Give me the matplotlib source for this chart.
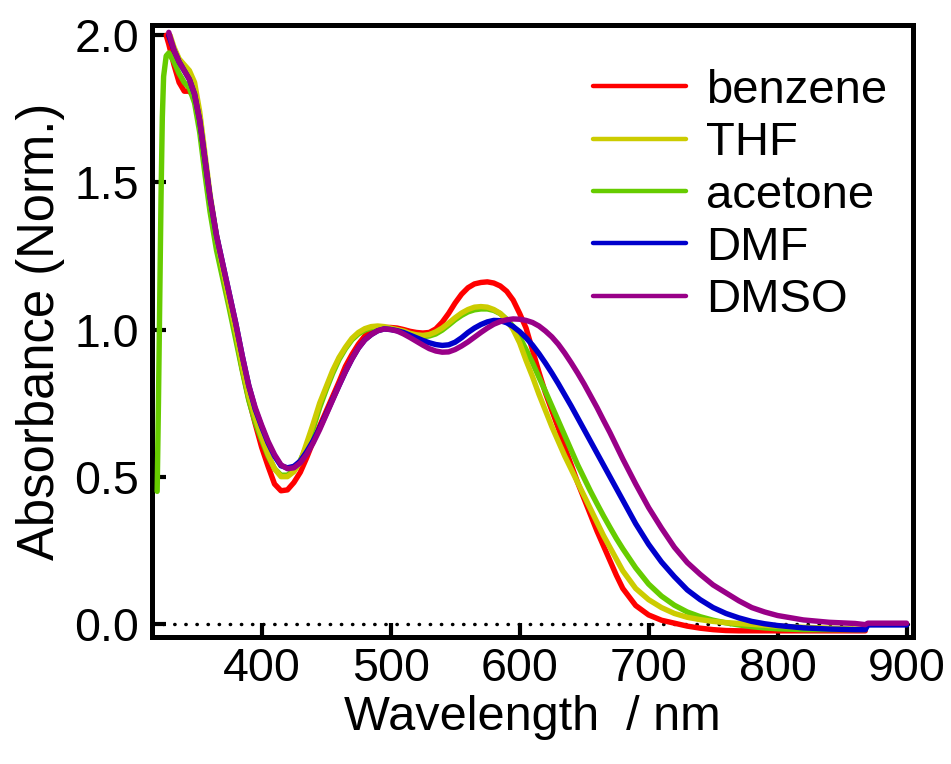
import matplotlib
matplotlib.use("Agg")
import matplotlib.pyplot as plt

plt.rcParams['font.family'] = ['Liberation Sans', 'DejaVu Sans']

# shared wavelength grid (nm)
grid = [332, 336, 340, 344, 348, 352, 356, 360,
        365, 370, 375, 380, 385, 390, 395, 400, 405, 410,
        415, 420, 425, 430, 435, 440, 445, 450, 455, 460,
        465, 470, 475, 480, 485, 490, 495, 500, 505, 510,
        515, 520, 525, 530, 535, 540, 545, 550, 555, 560,
        565, 570, 575, 580, 585, 590, 595, 600, 605, 610,
        615, 620, 625, 630, 635, 640, 645, 650, 655, 660,
        665, 670, 675, 680, 690, 700, 710, 720, 730, 740,
        750, 760, 770, 780, 790, 800, 820, 840, 860, 868]

benzene_head_wl = [326, 328]
benzene_head = [2.00, 1.97]
benzene = [1.90, 1.84, 1.81, 1.81, 1.79, 1.70, 1.56, 1.43,
           1.30, 1.19, 1.09, 0.98, 0.865, 0.765, 0.68, 0.60, 0.535, 0.475,
           0.452, 0.455, 0.48, 0.515, 0.565, 0.62, 0.672, 0.722, 0.772, 0.822,
           0.875, 0.915, 0.95, 0.978, 0.995, 1.003, 1.007, 1.007, 1.005, 1.0,
           0.994, 0.99, 0.988, 0.99, 1.002, 1.025, 1.055, 1.09, 1.12, 1.142,
           1.155, 1.16, 1.162, 1.158, 1.148, 1.13, 1.10, 1.055, 1.005, 0.93,
           0.855, 0.785, 0.725, 0.665, 0.60, 0.54, 0.48, 0.425, 0.37, 0.315,
           0.265, 0.215, 0.165, 0.12, 0.062, 0.03, 0.012, 0.002, -0.008, -0.015,
           -0.02, -0.023, -0.024, -0.024, -0.024, -0.024, -0.024, -0.024, -0.024, -0.024]

thf_head_wl = [329]
thf_head = [2.00]
thf = [1.96, 1.92, 1.90, 1.88, 1.84, 1.74, 1.60, 1.46,
       1.32, 1.20, 1.09, 0.99, 0.875, 0.775, 0.70, 0.635, 0.575, 0.527,
       0.50, 0.50, 0.517, 0.55, 0.615, 0.68, 0.75, 0.805, 0.86, 0.905,
       0.94, 0.97, 0.99, 1.003, 1.01, 1.012, 1.01, 1.005, 1.0, 0.995,
       0.987, 0.982, 0.98, 0.983, 0.992, 1.005, 1.022, 1.04, 1.056, 1.068,
       1.076, 1.078, 1.076, 1.068, 1.055, 1.032, 1.0, 0.955, 0.895, 0.84,
       0.78, 0.725, 0.67, 0.62, 0.57, 0.525, 0.48, 0.435, 0.39, 0.345,
       0.30, 0.26, 0.22, 0.18, 0.12, 0.082, 0.055, 0.035, 0.022, 0.014,
       0.008, 0.004, 0.001, -0.002, -0.005, -0.008, -0.012, -0.015, -0.018, -0.018]

acetone_head_wl = [319, 320, 321, 322, 323, 324, 326, 328]
acetone_head = [0.45, 0.75, 1.10, 1.45, 1.72, 1.86, 1.93, 1.94]
acetone = [1.91, 1.87, 1.84, 1.82, 1.77, 1.67, 1.53, 1.40,
           1.27, 1.17, 1.07, 0.965, 0.86, 0.76, 0.685, 0.625, 0.57, 0.527,
           0.505, 0.505, 0.522, 0.555, 0.605, 0.665, 0.735, 0.795, 0.85, 0.898,
           0.935, 0.965, 0.985, 0.998, 1.006, 1.008, 1.006, 1.002, 0.997, 0.99,
           0.983, 0.978, 0.976, 0.978, 0.985, 0.998, 1.015, 1.033, 1.048, 1.06,
           1.067, 1.07, 1.07, 1.065, 1.054, 1.035, 1.01, 0.975, 0.932, 0.887,
           0.838, 0.79, 0.74, 0.69, 0.64, 0.59, 0.54, 0.495, 0.45, 0.408,
           0.367, 0.328, 0.29, 0.255, 0.19, 0.135, 0.094, 0.063, 0.04, 0.024,
           0.012, 0.003, -0.004, -0.01, -0.014, -0.017, -0.02, -0.02, -0.02, -0.02]

dmf_head_wl = [328]
dmf_head = [2.00]
dmf = [1.95, 1.91, 1.88, 1.85, 1.80, 1.71, 1.58, 1.45,
       1.32, 1.22, 1.12, 1.02, 0.91, 0.81, 0.73, 0.67, 0.615, 0.57,
       0.537, 0.53, 0.535, 0.553, 0.585, 0.622, 0.665, 0.713, 0.762, 0.81,
       0.857, 0.9, 0.937, 0.965, 0.983, 0.996, 1.002, 1.0, 0.996, 0.99,
       0.981, 0.972, 0.963, 0.955, 0.949, 0.946, 0.948, 0.957, 0.972, 0.99,
       1.005, 1.017, 1.026, 1.031, 1.03, 1.023, 1.01, 0.993, 0.972, 0.947,
       0.918, 0.886, 0.852, 0.816, 0.778, 0.74, 0.70, 0.66, 0.62, 0.58,
       0.54, 0.50, 0.46, 0.42, 0.34, 0.27, 0.21, 0.16, 0.115, 0.082,
       0.055, 0.035, 0.02, 0.008, 0.0, -0.006, -0.014, -0.018, -0.02, -0.02]
dmf_tail_wl = [870, 900]
dmf_tail = [-0.004, -0.004]

dmso_head_wl = [328]
dmso_head = [2.01]
dmso = [1.95, 1.91, 1.88, 1.85, 1.80, 1.71, 1.58, 1.45,
        1.32, 1.22, 1.12, 1.02, 0.91, 0.81, 0.735, 0.675, 0.62, 0.575,
        0.54, 0.527, 0.53, 0.547, 0.577, 0.615, 0.66, 0.71, 0.76, 0.81,
        0.858, 0.9, 0.937, 0.965, 0.983, 0.996, 1.002, 1.0, 0.995, 0.985,
        0.973, 0.96, 0.947, 0.935, 0.927, 0.923, 0.924, 0.932, 0.944, 0.958,
        0.974, 0.99, 1.005, 1.018, 1.027, 1.033, 1.036, 1.035, 1.031, 1.024,
        1.012, 0.995, 0.975, 0.95, 0.92, 0.887, 0.852, 0.815, 0.775, 0.735,
        0.692, 0.65, 0.605, 0.56, 0.475, 0.395, 0.325, 0.26, 0.208, 0.168,
        0.132, 0.105, 0.078, 0.055, 0.04, 0.028, 0.013, 0.005, 0.001, -0.003]
dmso_tail_wl = [870, 900]
dmso_tail = [0.002, 0.002]

labels = ['benzene', 'THF', 'acetone', 'DMF', 'DMSO']
colors = ['#ff0000', '#cccc00', '#66cc00', '#0000cc', '#990088']

series = {
    'benzene': (benzene_head_wl + grid, benzene_head + benzene),
    'THF': (thf_head_wl + grid, thf_head + thf),
    'acetone': (acetone_head_wl + grid, acetone_head + acetone),
    'DMF': (dmf_head_wl + grid + dmf_tail_wl, dmf_head + dmf + dmf_tail),
    'DMSO': (dmso_head_wl + grid + dmso_tail_wl, dmso_head + dmso + dmso_tail),
}

fig = plt.figure(figsize=(9.51, 7.64), dpi=100)
ax = fig.add_axes([152/951, 1 - 637/764, (913-152)/951, (637-25)/764])

ax.axhline(0, color='black', lw=2.5, linestyle=(0, (0.1, 3.1)),
           dash_capstyle='round', zorder=1)

draw_order = ['benzene', 'acetone', 'THF', 'DMF', 'DMSO']
handles = {}
for name in draw_order:
    i = labels.index(name)
    x, y = series[name]
    ln, = ax.plot(x, y, color=colors[i], lw=3.9, solid_capstyle='round',
                  solid_joinstyle='round', zorder=2 + draw_order.index(name))
    handles[name] = ln

ax.set_xlim(315, 905)
ax.set_ylim(-0.045, 2.035)
ax.set_xticks([400, 500, 600, 700, 800, 900])
ax.set_yticks([0.0, 0.5, 1.0, 1.5, 2.0])
ax.set_yticklabels(['0.0', '0.5', '1.0', '1.5', '2.0'])

for s in ax.spines.values():
    s.set_linewidth(3.6)
ax.tick_params(direction='in', length=10, width=3, labelsize=33.5, pad=9)
ax.tick_params(axis='x', pad=7)

ax.set_xlabel('Wavelength  / nm', fontsize=35, labelpad=3)
ax.set_ylabel('Absorbance (Norm.)', fontsize=36.5, labelpad=7)

leg = ax.legend([handles[n] for n in labels], labels,
                loc='upper left', bbox_to_anchor=(593/951, 1 - 69/764),
                bbox_transform=fig.transFigure, frameon=False,
                fontsize=34, handlelength=1.96, handletextpad=0.43,
                labelspacing=0.175, borderpad=0, borderaxespad=0)
for h in leg.legend_handles:
    h.set_linewidth(3.2)

fig.savefig('out.png', dpi=100)
